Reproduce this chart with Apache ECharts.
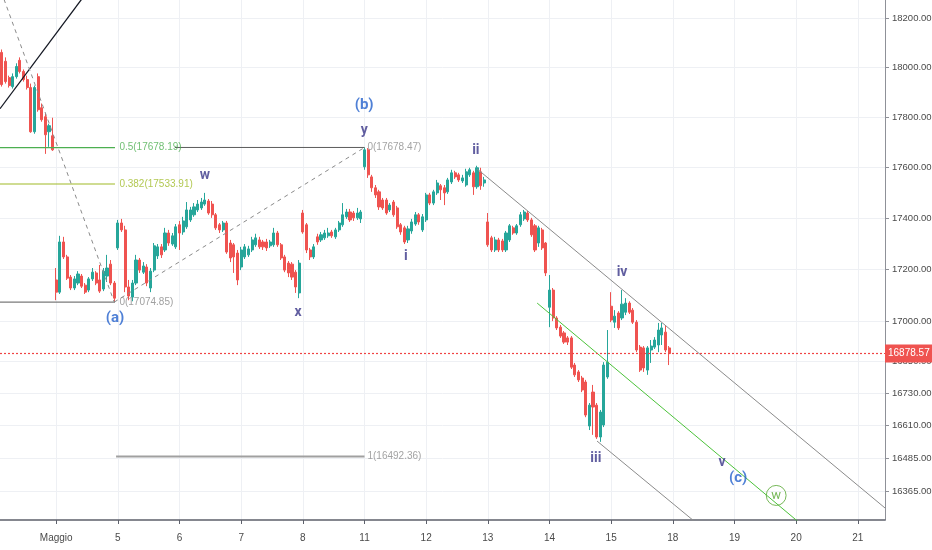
<!DOCTYPE html>
<html>
<head>
<meta charset="utf-8">
<script src="https://cdn.jsdelivr.net/npm/echarts@6.0.0/dist/echarts.min.js"></script>
<style>
  html, body { margin: 0; padding: 0; background: #fff; }
  #main { width: 932px; height: 550px; }
</style>
</head>
<body>
<div id="main"></div>
<script>
// 30-min candles, FTSE MIB style session 09:00-17:00
const dayNames = ['', 'Maggio', '5', '6', '7', '8', '11', '12', '13', '14', '15', '18', '19', '20', '21'];
const daySlots = [15, 17, 17, 17, 17, 17, 17, 17, 17, 17, 17, 17, 17, 17, 8];
const sessionTimes = ['09:00', '09:30', '10:00', '10:30', '11:00', '11:30', '12:00', '12:30', '13:00',
  '13:30', '14:00', '14:30', '15:00', '15:30', '16:00', '16:30', '17:00'];

// price axis (log scale like the source chart)
const priceTicks = [18200, 18000, 17800, 17600, 17400, 17200, 17000, 16850, 16730, 16610, 16485, 16365];
const priceRange = [16259, 18274];
const lastClose = 16878.57;

// [open, close, low, high]
const apr30 = [
  [18060, 17930, 17922, 18072], [18024, 17942, 17934, 18040], [17958, 17926, 17918, 17966],
  [17922, 17962, 17914, 17975], [17962, 18003, 17954, 18016], [18028, 17983, 17975, 18040],
  [17983, 17950, 17942, 17991], [17950, 17918, 17910, 17966], [17918, 17741, 17737, 17934],
  [17741, 17918, 17733, 17926], [17962, 17829, 17821, 17975], [17837, 17789, 17781, 17854],
  [17801, 17729, 17653, 17813], [17741, 17765, 17681, 17773], [17725, 17669, 17665, 17797]
];
const may04 = [
  [17160, 17113, 17082, 17206], [17113, 17307, 17106, 17331], [17307, 17249, 17241, 17327],
  [17249, 17167, 17160, 17257], [17171, 17129, 17121, 17179], [17129, 17164, 17121, 17175],
  [17148, 17183, 17140, 17194], [17175, 17136, 17129, 17183], [17140, 17113, 17106, 17148],
  [17121, 17164, 17113, 17171], [17164, 17190, 17156, 17206], [17187, 17148, 17140, 17194],
  [17160, 17117, 17110, 17218], [17125, 17194, 17117, 17206], [17175, 17206, 17152, 17257],
  [17221, 17148, 17140, 17237], [17148, 17090, 17074.85, 17156]
];
const may05 = [
  [17284, 17381, 17276, 17393], [17381, 17354, 17346, 17397], [17354, 17133, 17113, 17370],
  [17133, 17098, 17082, 17160], [17094, 17148, 17078, 17160], [17148, 17237, 17140, 17257],
  [17237, 17198, 17187, 17245], [17190, 17214, 17183, 17229], [17210, 17148, 17136, 17221],
  [17129, 17194, 17113, 17206], [17198, 17292, 17190, 17303], [17253, 17288, 17241, 17299],
  [17288, 17257, 17245, 17299], [17276, 17342, 17268, 17362], [17342, 17303, 17292, 17354],
  [17299, 17331, 17292, 17342], [17288, 17366, 17280, 17377]
];
const may06 = [
  [17374, 17342, 17276, 17389], [17346, 17389, 17335, 17405], [17366, 17432, 17358, 17463],
  [17393, 17432, 17385, 17444], [17413, 17444, 17405, 17459], [17432, 17455, 17424, 17471],
  [17440, 17463, 17432, 17479], [17455, 17471, 17448, 17499], [17467, 17420, 17413, 17475],
  [17455, 17413, 17401, 17467], [17413, 17362, 17354, 17420], [17374, 17354, 17342, 17381],
  [17354, 17381, 17346, 17389], [17381, 17268, 17261, 17389], [17303, 17245, 17229, 17315],
  [17296, 17249, 17187, 17303], [17264, 17160, 17140, 17276]
];
const may07 = [
  [17210, 17276, 17198, 17288], [17249, 17288, 17241, 17299], [17257, 17280, 17249, 17292],
  [17276, 17315, 17268, 17327], [17296, 17323, 17288, 17339], [17315, 17288, 17280, 17327],
  [17307, 17288, 17276, 17315], [17307, 17284, 17272, 17319], [17292, 17307, 17284, 17315],
  [17296, 17342, 17288, 17362], [17342, 17296, 17288, 17350], [17296, 17245, 17237, 17303],
  [17249, 17198, 17190, 17257], [17225, 17187, 17171, 17233], [17221, 17171, 17160, 17229],
  [17190, 17133, 17110, 17198], [17110, 17225, 17090, 17237]
];
const may08 = [
  [17420, 17346, 17339, 17432], [17374, 17276, 17264, 17381], [17276, 17249, 17237, 17284],
  [17249, 17288, 17241, 17299], [17327, 17307, 17296, 17339], [17315, 17335, 17307, 17346],
  [17323, 17342, 17315, 17354], [17331, 17342, 17323, 17362], [17346, 17331, 17323, 17354],
  [17327, 17354, 17319, 17362], [17354, 17381, 17346, 17389], [17374, 17413, 17366, 17459],
  [17405, 17424, 17397, 17436], [17424, 17393, 17385, 17436], [17420, 17401, 17389, 17428],
  [17401, 17420, 17393, 17440], [17397, 17424, 17381, 17432]
];
const may11 = [
  [17602, 17669, 17590, 17678.47], [17669, 17570, 17558, 17676], [17562, 17519, 17503, 17570],
  [17519, 17491, 17479, 17530], [17503, 17444, 17432, 17511], [17471, 17440, 17432, 17479],
  [17471, 17420, 17413, 17479], [17432, 17451, 17424, 17459], [17463, 17413, 17405, 17471],
  [17440, 17366, 17358, 17448], [17374, 17346, 17335, 17381], [17362, 17307, 17299, 17370],
  [17315, 17358, 17303, 17370], [17350, 17385, 17339, 17397], [17377, 17413, 17370, 17424],
  [17413, 17385, 17374, 17420], [17354, 17405, 17346, 17416]
];
const may12 = [
  [17393, 17491, 17385, 17499], [17491, 17459, 17451, 17499], [17459, 17503, 17451, 17511],
  [17499, 17538, 17491, 17550], [17527, 17511, 17471, 17534], [17519, 17499, 17451, 17530],
  [17503, 17550, 17495, 17558], [17542, 17578, 17534, 17590], [17578, 17562, 17554, 17586],
  [17570, 17550, 17542, 17578], [17546, 17558, 17538, 17570], [17530, 17582, 17523, 17594],
  [17570, 17590, 17562, 17598], [17578, 17523, 17491, 17586], [17523, 17598, 17515, 17606],
  [17582, 17527, 17511, 17598], [17538, 17550, 17523, 17562]
];
const may13 = [
  [17385, 17296, 17288, 17420], [17323, 17276, 17268, 17331], [17276, 17315, 17268, 17327],
  [17315, 17276, 17268, 17323], [17311, 17276, 17268, 17319], [17276, 17342, 17268, 17350],
  [17315, 17370, 17307, 17377], [17362, 17342, 17335, 17370], [17342, 17370, 17335, 17377],
  [17374, 17413, 17366, 17424], [17397, 17424, 17389, 17432], [17420, 17393, 17385, 17428],
  [17393, 17335, 17327, 17401], [17370, 17276, 17268, 17377], [17303, 17362, 17288, 17370],
  [17354, 17284, 17276, 17362], [17303, 17187, 17175, 17307]
];
const may14 = [
  [17055, 17121, 16979, 17179], [17121, 17014, 17002, 17129], [17014, 16976, 16968, 17021],
  [16979, 16945, 16938, 16987], [16957, 16922, 16915, 16964], [16938, 16922, 16911, 16945],
  [16938, 16827, 16820, 16945], [16835, 16798, 16790, 16843], [16809, 16779, 16771, 16816],
  [16786, 16741, 16733, 16794], [16771, 16647, 16639, 16779], [16606, 16684, 16591, 16692],
  [16733, 16677, 16573, 16760], [16684, 16565, 16558, 16692], [16565, 16658, 16547, 16666],
  [16610, 16835, 16602, 16846], [16790, 16846, 16783, 16968]
];
const may15 = [
  [17059, 17006, 16998, 17113], [16998, 17021, 16976, 17044], [17033, 16976, 16968, 17040],
  [17014, 17067, 17006, 17121], [17036, 17071, 17025, 17090], [17071, 17036, 17029, 17078],
  [17044, 16998, 16991, 17052], [16998, 16892, 16884, 17006], [16903, 16816, 16809, 16911],
  [16900, 16824, 16809, 16907], [16816, 16900, 16798, 16907], [16892, 16907, 16843, 16930],
  [16903, 16930, 16896, 16941], [16911, 16968, 16884, 16995], [16949, 16976, 16911, 16995],
  [16960, 16892, 16884, 16987], [16900, 16878.57, 16835, 16907]
];

// drawings: [slot, price]
const fibA = [17678.19, 17533.91, 17074.85];
const fibAText = ['0.5(17678.19)', '0.382(17533.91)', '0(17074.85)'];
const fibB = [17678.47, 16492.36];
const fibBText = ['0(17678.47)', '1(16492.36)'];
const riseLine = [[-0.5, 17833], [24.3, 18323]];
const dashDown = [[0.6, 18277], [31, 17074.85]];
const dashUp = [[31, 17074.85], [100, 17678.47]];
const channelTop = [[131, 17594], [243.5, 16303]];
const channelMid = [[147.6, 17071], [225.6, 16186]];
const channelLow = [[164.1, 16550], [197.2, 16186]];

const waveText = ['(a)', 'w', 'x', 'y', '(b)', 'i', 'ii', 'iii', 'iv', 'v', '(c)', 'w'];
const wavePos = [[31.2, 17014], [56, 17566], [81.7, 17036], [99.9, 17745], [99.9, 17846], [111.4, 17249],
  [130.7, 17665], [163.8, 16487], [171, 17190], [198.6, 16472], [203, 16413], [213.5, 16349]];
const waveDegree = ['int', 'min', 'min', 'min', 'int', 'min', 'min', 'min', 'min', 'min', 'int', 'pri'];

const L = Math.log;
const font = '"Liberation Sans", Arial, sans-serif';

const categories = [];
const dayStart = {};
dayNames.forEach((d, k) => {
  const n = daySlots[k];
  const times = k === 0 ? sessionTimes.slice(sessionTimes.length - n) : sessionTimes.slice(0, n);
  if (d) dayStart[categories.length] = d;
  times.forEach(t => categories.push(d + ' ' + t));
});
const isDayStart = (i) => dayStart[i] !== undefined;
const dayStartIdx = Object.keys(dayStart).map(Number);
const lastSlot = categories.length - 0.5;

const ohlc = [].concat(apr30, may04, may05, may06, may07, may08, may11, may12, may13, may14, may15);

const seg = (pts) => pts.map(p => [p[0], L(p[1])]);

function lineSeries(pts, color, width, type) {
  return {
    type: 'line', xAxisIndex: 1, yAxisIndex: 0, data: seg(pts), showSymbol: false,
    symbol: 'none', silent: true, z: 3,
    lineStyle: { color: color, width: width, type: type || 'solid' }
  };
}

const waveStyle = {
  int: { color: '#2360cc', fontSize: 15, fontWeight: 'bold' },
  min: { color: '#3a3688', fontSize: 14, fontWeight: 'bold' },
  pri: { color: '#55a630', fontSize: 13, borderColor: '#55a630', borderWidth: 1, borderRadius: 11, padding: [3, 5, 4, 5] }
};

const fibColors = ['#4caf50', '#9fba26', '#888888'];

const chart = echarts.init(document.getElementById('main'));
const option = {
  animation: false,
  backgroundColor: '#ffffff',
  grid: { left: 0, right: 47, top: 0, bottom: 30, containLabel: false, outerBoundsMode: 'none' },
  xAxis: [{
    type: 'category',
    data: categories,
    boundaryGap: true,
    axisLine: { onZero: false, lineStyle: { color: '#5d606b', width: 1.5 } },
    axisTick: { show: true, alignWithLabel: true, interval: isDayStart, length: 4, lineStyle: { color: '#5d606b' } },
    axisLabel: {
      interval: isDayStart, formatter: (v, i) => dayStart[i],
      color: '#4a4a4a', fontSize: 10, margin: 13, fontFamily: font
    },
    splitLine: { show: false }
  }, {
    type: 'value', min: -0.5, max: lastSlot,
    axisLine: { show: false, onZero: false },
    axisLabel: { show: false },
    axisTick: { show: false, customValues: dayStartIdx },
    splitLine: { show: true, lineStyle: { color: '#eef0f4' } }
  }],
  yAxis: {
    type: 'value',
    position: 'right',
    min: L(priceRange[0]),
    max: L(priceRange[1]),
    axisLine: { show: true, onZero: false, lineStyle: { color: '#8f9198' } },
    axisTick: { show: true, length: 4, customValues: priceTicks.map(L), lineStyle: { color: '#8f9198' } },
    axisLabel: {
      customValues: priceTicks.map(L),
      formatter: v => Math.exp(v).toFixed(2),
      color: '#4a4a4a', fontSize: 9.5, margin: 7, fontFamily: font
    },
    splitLine: { show: true, lineStyle: { color: '#eef0f4' } }
  },
  series: [
    {
      type: 'candlestick',
      xAxisIndex: 0, yAxisIndex: 0,
      data: ohlc.map(d => d.map(L)),
      barWidth: 2.6,
      itemStyle: { color: '#26a69a', color0: '#ef5350', borderColor: '#26a69a', borderColor0: '#ef5350', borderWidth: 1 },
      markLine: {
        silent: true, symbol: 'none', precision: 10,
        data: [{ yAxis: L(lastClose) }],
        lineStyle: { color: '#f04444', type: [2, 2], width: 1.2, opacity: 1 },
        label: {
          show: true, position: 'end', distance: 0, formatter: () => lastClose.toFixed(2),
          backgroundColor: '#ef5350', color: '#ffffff', fontSize: 10, fontFamily: font,
          padding: [4, 3, 4, 3]
        }
      },
      z: 2
    },
    lineSeries([[-0.5, fibA[0]], [31.2, fibA[0]]], fibColors[0], 1.2),
    lineSeries([[-0.5, fibA[1]], [31.2, fibA[1]]], fibColors[1], 1.2),
    lineSeries([[-0.5, fibA[2]], [31.2, fibA[2]]], '#7b7b7b', 1.2),
    lineSeries([[47.7, fibB[0]], [100, fibB[0]]], '#5a5a5a', 1),
    lineSeries([[31.5, fibB[1]], [100, fibB[1]]], '#a0a0a0', 2),
    lineSeries(riseLine, '#131722', 1.3),
    lineSeries(dashDown, '#8a8a8a', 1, [4, 4]),
    lineSeries(dashUp, '#8a8a8a', 1, [4, 4]),
    lineSeries(channelTop, '#8b8b8b', 1),
    lineSeries(channelMid, '#4cc23a', 1),
    lineSeries(channelLow, '#8b8b8b', 1),
    {
      type: 'scatter', xAxisIndex: 1, yAxisIndex: 0, symbolSize: 1, silent: true, z: 5,
      itemStyle: { color: 'transparent' },
      data: fibAText.map((t, k) => ({
        name: t, value: [32, L(fibA[k])],
        label: { show: true, position: 'right', distance: 1, formatter: '{b}', color: fibColors[k], fontSize: 10, fontFamily: font }
      })).concat(fibBText.map((t, k) => ({
        name: t, value: [100.4, L(fibB[k])],
        label: { show: true, position: 'right', distance: 1, formatter: '{b}', color: '#8c8c8c', fontSize: 10, fontFamily: font }
      })))
    },
    {
      type: 'scatter', xAxisIndex: 1, yAxisIndex: 0, symbolSize: 1, silent: true, z: 6,
      itemStyle: { color: 'transparent' },
      data: waveText.map((t, k) => ({
        name: t, value: [wavePos[k][0], L(wavePos[k][1])],
        label: Object.assign({ show: true, position: 'inside', formatter: '{b}', fontFamily: 'Roboto, sans-serif' }, waveStyle[waveDegree[k]])
      }))
    }
  ]
};
chart.setOption(option);
</script>
</body>
</html>
